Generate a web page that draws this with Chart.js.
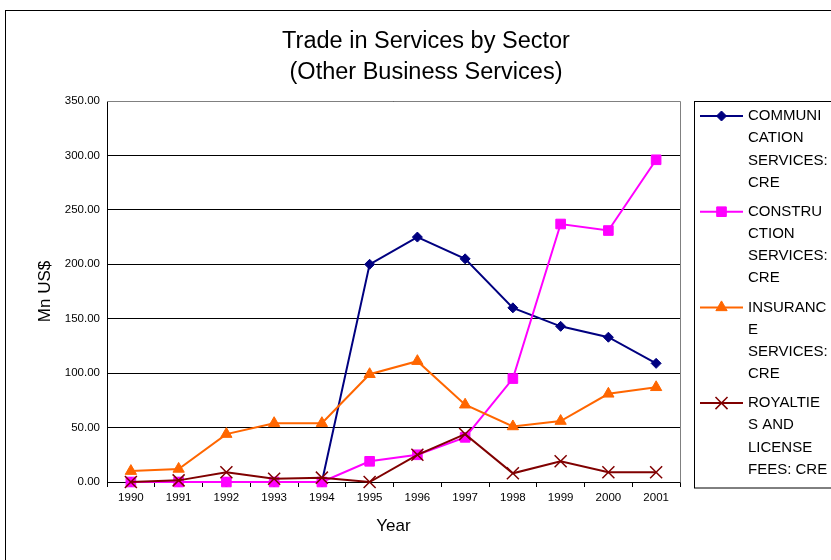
<!DOCTYPE html>
<html>
<head>
<meta charset="utf-8">
<title>Trade in Services by Sector</title>
<script src="https://cdn.jsdelivr.net/npm/chart.js@4.4.0/dist/chart.umd.min.js"></script>
<style>
  html, body { margin: 0; padding: 0; background: #ffffff; }
  .chart-box { position: relative; width: 831px; height: 560px; }
</style>
</head>
<body>
<div class="chart-box"><canvas id="tradeChart"></canvas></div>
<script>
// 年（横軸）
const years = ["1990", "1991", "1992", "1993", "1994", "1995", "1996", "1997", "1998", "1999", "2000", "2001"];

// 各セクターの値（Mn US$）
const communication = [0, 0, 0, 0, 0, 200, 225, 205, 160, 143, 133, 109];
const construction  = [0, 0, 0, 0, 0, 19, 25, 41, 95, 237, 231, 296];
const insurance     = [10, 12, 44, 54, 54, 99, 111, 71, 51, 56, 81, 87];
const royalties     = [0, 1.5, 9, 3, 4, 0, 25, 44, 8, 19, 9, 9];

const seriesNames = [
    "COMMUNICATION SERVICES: CRE",
    "CONSTRUCTION SERVICES: CRE",
    "INSURANCE SERVICES: CRE",
    "ROYALTIES AND LICENSE FEES: CRE"
];
// 凡例は枠が狭いので折り返した形で描く
const legendLines = [
    ["COMMUNI", "CATION", "SERVICES:", "CRE"],
    ["CONSTRU", "CTION", "SERVICES:", "CRE"],
    ["INSURANC", "E", "SERVICES:", "CRE"],
    ["ROYALTIE", "S AND", "LICENSE", "FEES: CRE"]
];

const yTickValues = [0, 50, 100, 150, 200, 250, 300, 350];
const titleLines = ["Trade in Services by Sector", "(Other Business Services)"];

const FONT = "'Liberation Sans', Arial, sans-serif";

function series(label, data, color, style, radius, order) {
    return {
        label: label,
        data: data,
        borderColor: color,
        backgroundColor: color,
        borderWidth: 2,
        pointStyle: style,
        pointRadius: radius,
        pointHoverRadius: radius,
        pointBorderWidth: style === "crossRot" ? 1.5 : 1,
        pointBackgroundColor: color,
        pointBorderColor: color,
        tension: 0,
        clip: false,
        order: order
    };
}

// order が小さいほど手前に描かれる（ROYALTIES が一番上）
const datasets = [
    series(seriesNames[0], communication, "#000080", "rectRot", 5, 3),
    series(seriesNames[1], construction, "#ff00ff", "rect", 6.8, 2),
    series(seriesNames[2], insurance, "#ff6600", "triangle", 6.5, 1),
    series(seriesNames[3], royalties, "#800000", "crossRot", 8.5, 0)
];

// 枠線・タイトル・凡例は自前で描画
const framePlugin = {
    id: "frame",
    beforeDraw(chart) {
        const ctx = chart.ctx;
        ctx.save();
        ctx.fillStyle = "#ffffff";
        ctx.fillRect(0, 0, chart.width, chart.height);
        ctx.restore();
    },
    afterDraw(chart) {
        const ctx = chart.ctx;
        const a = chart.chartArea;
        ctx.save();

        // 外枠
        ctx.strokeStyle = "#000000";
        ctx.lineWidth = 1;
        ctx.strokeRect(5.5, 10.5, 900, 600);

        // プロット領域の上・右の枠
        ctx.strokeStyle = "#808080";
        ctx.beginPath();
        ctx.moveTo(a.left, Math.round(a.top) + 0.5);
        ctx.lineTo(Math.round(a.right) + 0.5, Math.round(a.top) + 0.5);
        ctx.lineTo(Math.round(a.right) + 0.5, Math.round(a.bottom) + 0.5);
        ctx.stroke();

        // タイトル
        ctx.fillStyle = "#000000";
        ctx.font = "23.5px " + FONT;
        ctx.textAlign = "center";
        ctx.textBaseline = "middle";
        titleLines.forEach((t, i) => ctx.fillText(t, 426, 42 + i * 31));

        // 凡例
        ctx.strokeStyle = "#000000";
        ctx.strokeRect(694.5, 101.5, 300, 386.5);
        ctx.font = "15px " + FONT;
        ctx.textAlign = "left";
        chart.data.datasets.forEach((ds, i) => {
            const y = 116 + i * 95.7;
            ctx.strokeStyle = ds.borderColor;
            ctx.lineWidth = 2;
            ctx.beginPath();
            ctx.moveTo(700, y);
            ctx.lineTo(743, y);
            ctx.stroke();
            ctx.fillStyle = ds.pointBackgroundColor;
            ctx.strokeStyle = ds.pointBorderColor;
            ctx.lineWidth = ds.pointBorderWidth;
            Chart.helpers.drawPoint(ctx, {
                pointStyle: ds.pointStyle,
                radius: ds.pointRadius,
                borderWidth: ds.pointBorderWidth,
                rotation: 0
            }, 721.5, y);
            ctx.fillStyle = "#000000";
            legendLines[i].forEach((line, j) => ctx.fillText(line, 748, y + j * 22.2));
        });

        ctx.restore();
    }
};

new Chart(document.getElementById("tradeChart"), {
    type: "line",
    data: { labels: years, datasets: datasets },
    options: {
        responsive: true,
        maintainAspectRatio: false,
        animation: false,
        layout: { padding: { top: 101, right: 151, left: 5, bottom: 0 } },
        plugins: {
            legend: { display: false },
            title: { display: false },
            tooltip: { enabled: false }
        },
        scales: {
            x: {
                offset: true,
                afterFit(scale) { scale.height = 78; },
                grid: {
                    offset: true,
                    drawOnChartArea: false,
                    tickLength: 5,
                    color: "#000000"
                },
                border: { color: "#000000", width: 1 },
                ticks: {
                    color: "#000000",
                    font: { family: FONT, size: 11.5 },
                    padding: 4,
                    maxRotation: 0,
                    autoSkip: false
                },
                title: {
                    display: true,
                    text: "Year",
                    color: "#000000",
                    font: { family: FONT, size: 17 },
                    padding: { top: 0, bottom: 23 }
                }
            },
            y: {
                min: 0,
                max: 350,
                afterFit(scale) { scale.width = 102; },
                afterBuildTicks(scale) {
                    scale.ticks = yTickValues.map(v => ({ value: v }));
                },
                grid: {
                    color: "#000000",
                    lineWidth: 1,
                    drawTicks: false
                },
                border: { color: "#000000", width: 1 },
                ticks: {
                    color: "#000000",
                    font: { family: FONT, size: 11.5 },
                    padding: 7,
                    callback: v => Number(v).toFixed(2)
                },
                title: {
                    display: true,
                    text: "Mn US$",
                    color: "#000000",
                    font: { family: FONT, size: 17 },
                    padding: { top: 30, bottom: 0 }
                }
            }
        }
    },
    plugins: [framePlugin]
});
</script>
</body>
</html>
